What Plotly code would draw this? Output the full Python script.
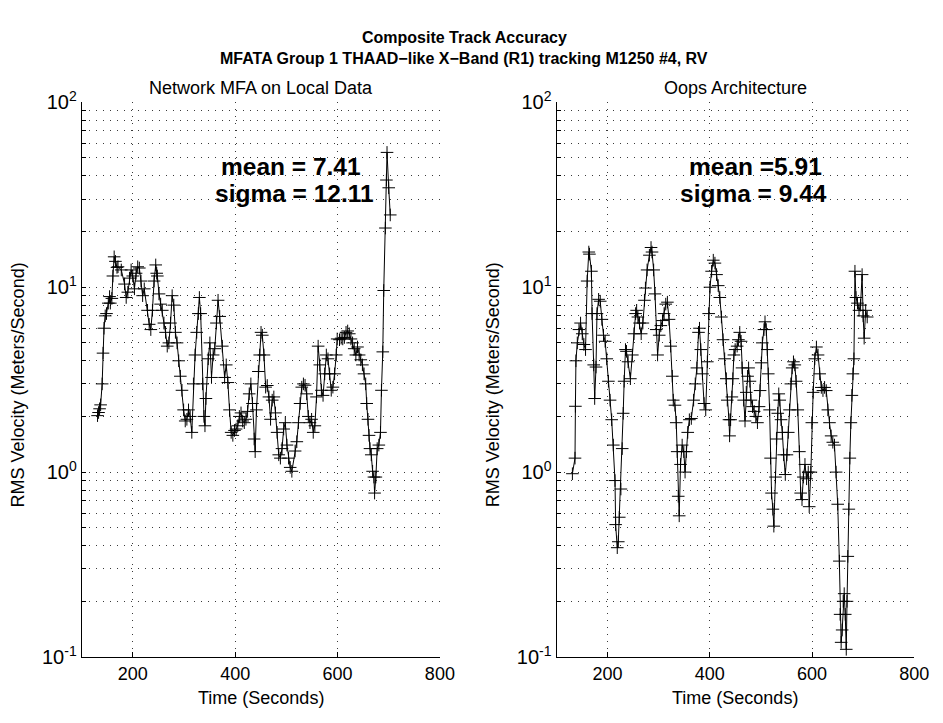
import plotly.graph_objects as go

# ---------------- data ----------------
t_left = [131, 133, 135, 137, 140, 141.7, 143.6, 146, 148.5, 152, 154.5, 156, 159, 161, 163.5, 166, 169,
          171.0, 177.4, 183.8, 187.0, 190.2, 193.4, 196.6, 199.8, 203.1, 206.3, 209.5, 212.7, 215.9, 219.1, 222.3,
          228.7, 231.9, 235.1, 238.3, 241.5, 244.7, 246.6, 247.9, 251.1, 254.3, 257.5, 260.7, 263.9, 267.2, 270.4,
          273.6, 276.8, 280.0, 283.2, 286.4, 289.6, 292.8, 296.0, 299.2, 302.4, 305.6, 308.8, 312.0, 315.2, 318.4,
          321.6, 324.8, 328.0, 330.0, 332.5, 336.4, 339.0, 340.9, 342.8, 347.3, 350.5, 353.7, 356.9, 360.1, 363.3,
          366.5, 369.7, 374.8, 379.3, 382.5, 385.7, 388.9, 392.1, 395.4, 398.6, 401.8, 405.0, 408.2, 411.4, 414.6,
          417.8, 421.0, 424.2, 427.4, 430.6, 433.8, 437.0, 439.0, 441.5, 445.3, 447.9, 450.5, 453.0, 456.2, 459.5,
          462.7, 465.9, 469.1, 472.3, 475.5, 478.7, 481.9, 485.1, 488.3, 491.5, 494.7, 497.9, 501.1, 504.3, 507.5,
          510.7, 517.1, 520.4, 523.6, 526.8, 530.1, 533.3, 536.5, 539.7, 542.9, 546.1, 549.3, 552.5, 555.7, 558.9,
          562.1, 565.3, 568.5, 571.7, 574.9, 578.1, 581.3, 584.5, 587.7, 590.9, 594.2, 597.4, 599.3, 603.8, 607.0,
          610.2, 613.4, 616.6, 619.8, 623.0, 626.2, 629.4, 632.6, 635.8, 639.0, 642.2, 645.4, 648.6, 651.8, 655.0,
          657.0, 659.5, 661.5, 663.4, 665.9, 668.5, 671.1, 672.4, 674.9, 677.5, 680.7, 683.9, 685.8, 688.4, 690.3,
          693.5, 695.5, 696.7, 700.0, 703.0]
v_left = [2.02, 2.1, 2.2, 2.31, 3.0, 4.4, 6.0, 7.0, 7.2, 8.2, 8.9, 8.2, 8.7, 11.5, 14.6, 13.8, 12.8,
          12.9, 12.4, 10.4, 8.8, 9.4, 11.2, 12.4, 11.5, 9.8, 11.9, 12.9, 12.7, 10.8, 9.0, 9.8,
          7.5, 6.3, 5.9, 7.5, 10.8, 13.2, 11.9, 11.5, 9.2, 8.1, 7.5, 6.4, 5.7, 4.8, 5.0,
          6.4, 9.0, 8.0, 5.7, 5.0, 4.0, 3.3, 2.77, 2.17, 1.89, 1.93, 2.17, 2.0, 1.64, 3.0,
          4.3, 5.7, 7.2, 8.8, 7.2, 3.0, 2.0, 1.78, 2.5, 4.1, 5.0, 3.25, 4.3, 4.65, 6.4,
          8.5, 6.95, 4.8, 3.25, 3.8, 3.05, 2.17, 1.64, 1.58, 1.68, 1.71, 1.78, 2.0, 2.09, 1.89,
          1.85, 1.93, 2.13, 2.65, 3.0, 2.35, 1.51, 1.29, 2.17, 3.5, 4.3, 5.7, 5.5, 4.3, 2.88,
          2.94, 2.55, 1.93, 2.45, 2.55, 2.09, 1.64, 1.24, 1.19, 1.34, 1.71, 1.85, 1.4, 1.19, 1.06,
          1.01, 1.3, 1.46, 1.85, 2.35, 2.88, 3.0, 2.95, 2.65, 2.0, 1.85, 1.93, 1.64, 1.78, 2.55,
          4.8, 3.8, 2.77, 2.6, 3.4, 4.3, 4.1, 3.4, 2.77, 2.88, 3.4, 4.3, 5.25, 5.2, 5.3,
          5.25, 5.35, 5.7, 5.8, 5.6, 5.25, 5.0, 4.65, 4.3, 4.75, 4.3, 4.05, 3.8, 3.4, 3.0,
          2.35, 1.93, 1.58, 1.34, 1.24, 1.01, 0.94, 0.77, 0.94, 1.34, 1.4, 1.64, 2.77, 4.47, 9.6,
          20.9, 38, 53.6, 34.5, 24.6]

t_right = [131.1, 136.2, 137, 138, 140.7, 144, 147.1, 150.4, 153.6, 156.8, 160, 163.2, 164.5, 168.3, 169.6,
           172.8, 174.7, 177.3, 179.2, 182.4, 185.6, 188.8, 192, 195.2, 198.4, 201.6, 204.8, 208.0, 211.2, 214.5,
           215.7, 218.9, 220.9, 222.8, 226, 228.6, 230.5, 232.4, 235, 236.9, 240.1, 244.6, 248.4, 251.6, 254.8,
           256.8, 259.3, 262.5, 265.7, 269, 272.1, 274, 277.3, 281.8, 285, 286.9, 290.1, 292.7, 295.2, 297.8,
           301, 304.2, 307.4, 310.6, 313.8, 317, 320.2, 323.4, 326.6, 328.5, 331.8, 334.3, 336.2, 338.2, 340.1,
           342.7, 345.9, 349.1, 351.6, 354.2, 356.8, 360, 363.8, 368.3, 371.5, 374.7, 377.9, 379.8, 382.4, 385.6,
           388.8, 392, 395.2, 397.8, 400.3, 403.5, 406.8, 410, 413.2, 416.4, 419.6, 422.7, 425.9, 429.1, 432.3,
           434.2, 437.5, 438.7, 440.7, 443.2, 445.1, 447.1, 449.6, 453.5, 456.0, 458.6, 461.2, 463.1, 466.3, 468.9,
           471.4, 474.0, 475.9, 478.5, 480.4, 483.6, 486.8, 490.0, 493.2, 496.4, 498.4, 500.9, 502.8, 506.0, 508.0,
           510.5, 512.5, 514.4, 517.0, 518.9, 520.8, 523.4, 525.3, 528.5, 530.4, 533.0, 534.9, 536.8, 539.4, 541.9,
           544.5, 547.7, 550.9, 553.5, 556.0, 558.6, 561.2, 563.7, 566.3, 568.9, 572.1, 575.3, 577.8, 580.4, 583.0,
           586.2, 589.4, 592.6, 594.5, 597.7, 599.6, 602.2, 605.4, 608.6, 611.8, 615.0, 618.2, 621.4, 624.6, 627.8,
           631.0, 634.2, 637.4, 640.7, 643.9, 647.1, 650.3, 653.5, 655, 657, 659, 661, 663, 665, 667,
           668.5, 670, 672, 674, 676, 678, 680, 682, 684, 686, 689, 692, 695, 698, 700,
           702, 705, 708]
v_right = [0.98, 1.19, 2.27, 4.0, 5.0, 5.9, 6.4, 5.6, 4.9, 4.6, 10.8, 15.5, 15.1, 12.2, 7.2,
           3.8, 2.5, 3.7, 7.2, 8.6, 8.4, 6.7, 5.5, 5.1, 4.1, 3.1, 2.45, 1.92, 1.4, 0.9,
           0.52, 0.39, 0.42, 0.57, 0.81, 1.34, 2.08, 3.1, 4.6, 4.5, 3.95, 3.2, 4.3, 5.6, 7.2,
           7.5, 6.9, 6.4, 5.6, 6.4, 8.5, 9.9, 12.4, 14.9, 16.4, 15.5, 12.4, 9.2, 5.9, 4.3,
           5.5, 6.2, 6.6, 7.2, 8.1, 8.3, 6.7, 4.8, 3.3, 2.45, 2.3, 1.85, 1.29, 0.74, 0.58,
           1.1, 1.4, 1.29, 1.0, 1.29, 1.64, 1.92, 1.95, 2.45, 3.0, 3.66, 5.7, 6.0, 4.6, 3.4,
           2.35, 2.17, 3.95, 7.2, 10.0, 12.2, 14.0, 13.5, 11.7, 10.2, 8.8, 6.9, 5.2, 4.1, 3.2,
           2.45, 1.92, 1.57, 1.92, 2.55, 3.2, 4.3, 4.6, 4.8, 5.2, 5.7, 5.1, 3.66, 2.45, 1.89,
           2.7, 3.3, 3.66, 3.1, 2.45, 2.26, 2.13, 2.0, 1.85, 2.26, 2.76, 3.9, 5.0, 5.9, 6.5,
           5.9, 4.6, 3.4, 2.17, 1.19, 0.77, 0.63, 0.51, 0.94, 1.51, 2.08, 2.65, 2.45, 1.92, 1.64,
           1.24, 0.97, 1.24, 1.64, 2.17, 3.0, 3.66, 3.95, 3.8, 3.1, 2.17, 1.29, 0.77, 0.71, 0.94,
           1.1, 0.92, 1.0, 0.65, 1.0, 1.85, 2.7, 4.1, 4.75, 4.3, 3.4, 2.87, 2.76, 2.87, 2.76,
           2.17, 1.85, 1.57, 1.45, 1.4, 1.0, 0.67, 0.33, 0.17, 0.12, 0.14, 0.2, 0.22, 0.17, 0.11,
           0.2, 0.35, 0.63, 1.19, 1.85, 2.6, 3.4, 4.1, 12.2, 8.8, 8.2, 7.5, 8.0, 11.7, 7.0,
           5.3, 7.5, 6.9]

assert len(t_left) == len(v_left)
assert len(t_right) == len(v_right)

x_ticks = [200, 400, 600, 800]
y_decades = [-1, 0, 1, 2]
panel_titles = ["Network MFA on Local Data", "Oops Architecture"]
stats_text = [("mean = 7.41", "sigma = 12.11"), ("mean =5.91", "sigma = 9.44")]
main_title = ["Composite Track Accuracy",
              "MFATA Group 1 THAAD\u2212like X\u2212Band (R1) tracking M1250 #4, RV"]
x_title = "Time (Seconds)"
y_title = "RMS Velocity (Meters/Second)"

# ---------------- layout helpers ----------------
W, H = 943, 723
FONT = "Liberation Sans, Arial, Helvetica, sans-serif"


def fx(p):
    return p / W


def fy(p):
    return 1 - p / H


y_tickvals = []
y_ticktext = []
for e in y_decades:
    for m in range(1, 10):
        if e == y_decades[-1] and m > 1:
            break
        y_tickvals.append(m * 10 ** e)
        y_ticktext.append("10<sup>%d</sup>" % e if m == 1 else "")

left_dom = [fx(83), fx(447)]
right_dom = [fx(565.5), fx(929)]
y_dom = [fy(666), fy(91.5)]

grid = dict(showgrid=True, gridcolor="#3a3a3a", gridwidth=1, griddash="1px,6px")

common_x = dict(range=[100, 800], tickvals=x_ticks, ticks="inside", ticklen=5, tickcolor="black",
                showline=True, linecolor="black", linewidth=1, zeroline=False,
                tickfont=dict(family=FONT, size=18, color="black"), **grid)
common_y = dict(type="log", range=[-1, 2], tickvals=y_tickvals, ticktext=y_ticktext,
                ticks="inside", ticklen=4, tickcolor="black", showline=True, linecolor="black",
                linewidth=1, zeroline=False, domain=y_dom,
                tickfont=dict(family=FONT, size=20, color="black"), **grid)

fig = go.Figure()
line_style = dict(color="black", width=1)
marker_style = dict(symbol="cross-thin", size=9, color="black", line=dict(color="black", width=1))
fig.add_trace(go.Scatter(x=t_left, y=v_left, mode="lines+markers", line=line_style,
                         marker=marker_style, xaxis="x", yaxis="y", showlegend=False))
fig.add_trace(go.Scatter(x=t_right, y=v_right, mode="lines+markers", line=line_style,
                         marker=marker_style, xaxis="x2", yaxis="y2", showlegend=False))

fig.update_layout(
    width=W, height=H, margin=dict(l=0, r=0, t=0, b=0),
    paper_bgcolor="white", plot_bgcolor="white",
    font=dict(family=FONT, color="black"),
    xaxis=dict(domain=left_dom, anchor="y", **common_x),
    yaxis=dict(anchor="x", **common_y),
    xaxis2=dict(domain=right_dom, anchor="y2", **common_x),
    yaxis2=dict(anchor="x2", **common_y),
)

ann = []
# main title
ann.append(dict(text="<b>%s</b>" % main_title[0], x=fx(471.5), y=fy(24), xref="paper", yref="paper",
                showarrow=False, font=dict(family=FONT, size=16), xanchor="center", yanchor="middle"))
ann.append(dict(text="<b>%s</b>" % main_title[1], x=fx(471.5), y=fy(46), xref="paper", yref="paper",
                showarrow=False, font=dict(family=FONT, size=16), xanchor="center", yanchor="middle"))
centers = [(83 + 447) / 2, (565.5 + 929) / 2]
ylab_x = [18, 500.5]
stat_left = [(222.7, 216.7), (698, 689)]
for i in range(2):
    ann.append(dict(text=panel_titles[i], x=fx(centers[i]), y=fy(77), xref="paper", yref="paper",
                    showarrow=False, font=dict(family=FONT, size=18), xanchor="center", yanchor="middle"))
    ann.append(dict(text=x_title, x=fx(centers[i]), y=fy(708), xref="paper", yref="paper",
                    showarrow=False, font=dict(family=FONT, size=18), xanchor="center", yanchor="middle"))
    ann.append(dict(text=y_title, x=fx(ylab_x[i]), y=fy(384), xref="paper", yref="paper", textangle=-90,
                    showarrow=False, font=dict(family=FONT, size=18), xanchor="center", yanchor="middle"))
    ann.append(dict(text="<b>%s</b>" % stats_text[i][0], x=fx(stat_left[i][0]), y=fy(158), xref="paper",
                    yref="paper", showarrow=False, font=dict(family=FONT, size=24.5),
                    xanchor="left", yanchor="middle"))
    ann.append(dict(text="<b>%s</b>" % stats_text[i][1], x=fx(stat_left[i][1]), y=fy(186), xref="paper",
                    yref="paper", showarrow=False, font=dict(family=FONT, size=24.5),
                    xanchor="left", yanchor="middle"))
fig.update_layout(annotations=ann)

fig.write_html("out.html")
